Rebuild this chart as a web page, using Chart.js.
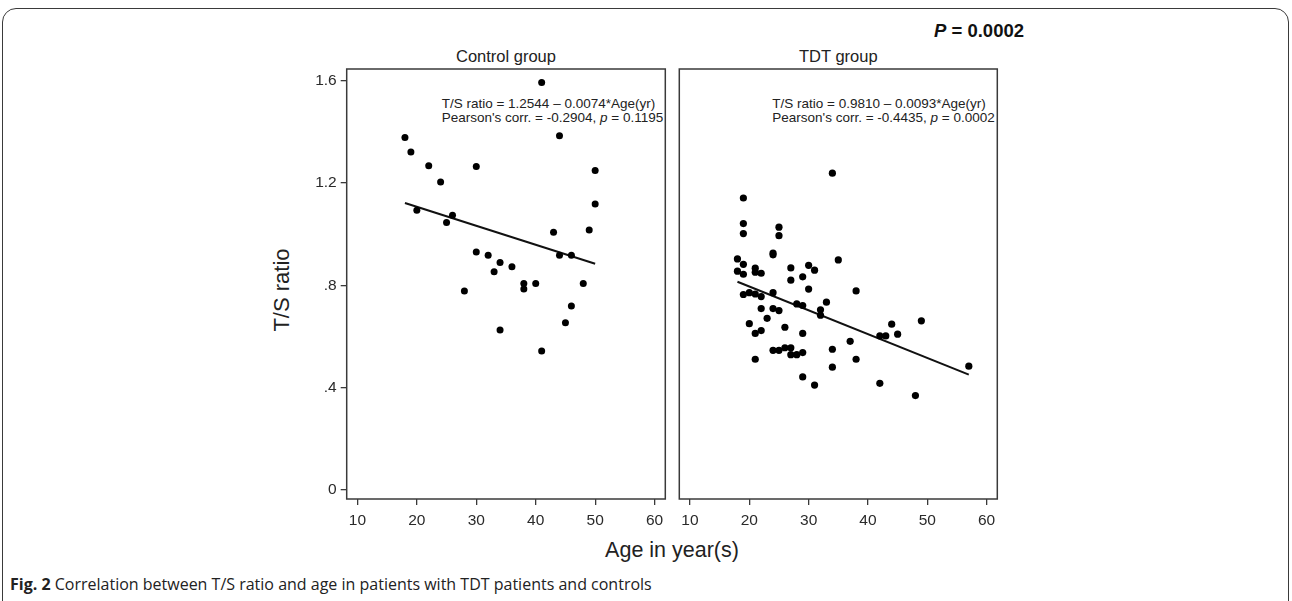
<!DOCTYPE html>
<html>
<head>
<meta charset="utf-8">
<script src="https://cdn.jsdelivr.net/npm/chart.js@4.4.1/dist/chart.umd.min.js"></script>
<style>
  html, body { margin:0; padding:0; background:#fff; }
  body { width:1292px; height:601px; position:relative; overflow:hidden; font-family:"Liberation Sans", Arial, sans-serif; color:#222; }
  .abs { position:absolute; white-space:nowrap; line-height:1; }
  canvas { position:absolute; }
</style>
</head>
<body>
<div class="abs" style="left:2px; top:8px; width:1287px; height:660px; border:1.6px solid #3a3a3a; border-radius:14px; box-sizing:border-box;"></div>

<div class="abs" id="pval" style="left:934px; top:22px; font-size:18.5px; font-weight:bold; color:#111;"><i>P</i> = 0.0002</div>
<div class="abs" style="left:406px; width:200px; text-align:center; top:47.7px; font-size:16.5px; color:#222;">Control group</div>
<div class="abs" style="left:738.3px; width:200px; text-align:center; top:47.7px; font-size:16.5px; color:#222;">TDT group</div>

<div class="abs" style="left:441.7px; top:96.9px; font-size:13.5px; color:#222;">T/S ratio = 1.2544 – 0.0074*Age(yr)</div>
<div class="abs" style="left:441.7px; top:111.3px; font-size:13.5px; color:#222;">Pearson's corr. = -0.2904, <i>p</i> = 0.1195</div>
<div class="abs" style="left:772.3px; top:96.9px; font-size:13.5px; color:#222;">T/S ratio = 0.9810 – 0.0093*Age(yr)</div>
<div class="abs" style="left:772.3px; top:111.3px; font-size:13.5px; color:#222;">Pearson's corr. = -0.4435, <i>p</i> = 0.0002</div>

<div class="abs" style="left:281.5px; top:290px; font-size:22px; color:#222; transform:translate(-50%,-50%) rotate(-90deg);">T/S ratio</div>
<div class="abs" style="left:572px; width:200px; text-align:center; top:540px; font-size:21.5px; color:#222;">Age in year(s)</div>

<div class="abs" style="left:10px; top:576px; font-size:16px; font-family:'Open Sans', sans-serif; color:#222;"><b>Fig. 2</b> Correlation between T/S ratio and age in patients with TDT patients and controls</div>

<canvas id="left" width="430" height="496" style="left:250px; top:49px; width:430px; height:496px;"></canvas>
<canvas id="right" width="340" height="496" style="left:670px; top:49px; width:340px; height:496px;"></canvas>

<script>
// ---------- data ----------
const panelTitles = ["Control group", "TDT group"];
const xTickValues = [10, 20, 30, 40, 50, 60];
const yTickValues = [0, 0.4, 0.8, 1.2, 1.6];
const yTickLabels = ["0", ".4", ".8", "1.2", "1.6"];

const controlAge = [18,19,22,24,30,41,44,50,50,20,26,25,43,49,30,32,44,46,34,33,36,38,38,40,48,28,46,45,34,41];
const controlTS  = [1.377,1.321,1.267,1.204,1.264,1.592,1.384,1.248,1.118,1.093,1.074,1.045,1.007,1.016,0.930,0.917,0.917,0.917,0.889,0.853,0.872,0.807,0.785,0.807,0.807,0.778,0.719,0.654,0.625,0.543];
const controlFit = { intercept: 1.2544, slope: -0.0074 };

const tdtAge = [34,19,19,19,25,25,24,24,18,35,19,18,19,21,21,22,27,27,30,29,31,30,38,19,20,21,22,24,28,29,33,32,32,22,24,25,23,20,26,22,21,29,44,49,42,43,45,37,24,25,26,27,27,28,29,34,21,38,34,29,31,42,48,57];
const tdtTS  = [1.238,1.141,1.041,1.002,1.027,0.994,0.926,0.919,0.903,0.899,0.882,0.855,0.843,0.867,0.851,0.847,0.868,0.820,0.878,0.833,0.859,0.785,0.778,0.764,0.771,0.766,0.756,0.771,0.727,0.721,0.734,0.704,0.683,0.709,0.709,0.701,0.671,0.650,0.636,0.623,0.612,0.612,0.648,0.661,0.602,0.602,0.609,0.581,0.546,0.546,0.556,0.556,0.529,0.529,0.537,0.550,0.511,0.511,0.480,0.442,0.410,0.417,0.369,0.484];
const tdtFit = { intercept: 0.9810, slope: -0.0093 };

// ---------- helpers ----------
const FONT = '"Liberation Sans", Arial, sans-serif';
const AXIS_COLOR = '#3a3a3a';

const framePlugin = {
  id: 'frame',
  afterDraw(chart) {
    const { ctx, chartArea: a } = chart;
    ctx.save();
    ctx.strokeStyle = AXIS_COLOR;
    ctx.lineWidth = 1.5;
    ctx.strokeRect(a.left, a.top, a.right - a.left, a.bottom - a.top);
    ctx.restore();
  }
};

function fitLine(ages, fit) {
  const lo = Math.min(...ages), hi = Math.max(...ages);
  return [lo, hi].map(x => ({ x, y: fit.intercept + fit.slope * x }));
}

function makePanel(id, ages, ts, fit, opts) {
  const points = ages.map((a, i) => ({ x: a, y: ts[i] }));
  return new Chart(document.getElementById(id), {
    type: 'scatter',
    data: {
      datasets: [
        { data: points, backgroundColor: '#000', borderColor: '#000', pointRadius: opts.r, pointBorderWidth: 0, pointHoverRadius: opts.r },
        { type: 'line', data: fitLine(ages, fit), borderColor: '#111', borderWidth: 2, pointRadius: 0, showLine: true, fill: false }
      ]
    },
    options: {
      responsive: false,
      animation: false,
      devicePixelRatio: 1,
      layout: { padding: { left: 0, top: 20, right: opts.padRight, bottom: 0 } },
      plugins: { legend: { display: false }, tooltip: { enabled: false } },
      scales: {
        x: {
          type: 'linear', min: 8.2, max: 61.8,
          afterBuildTicks: s => { s.ticks = xTickValues.map(v => ({ value: v })); },
          afterFit: s => { s.height = 46; },
          grid: { display: true, drawOnChartArea: false, drawTicks: true, tickLength: 6, color: AXIS_COLOR, lineWidth: 1.3 },
          border: { display: false },
          ticks: { color: '#2a2a2a', padding: 6, maxRotation: 0, autoSkip: false, font: { family: FONT, size: 15.5 }, callback: v => String(v) }
        },
        y: {
          type: 'linear', min: -0.035, max: 1.645,
          afterBuildTicks: s => { s.ticks = yTickValues.map(v => ({ value: v })); },
          afterFit: s => { s.width = opts.yWidth; },
          grid: { display: opts.yLabels, drawOnChartArea: false, drawTicks: true, tickLength: 6, color: AXIS_COLOR, lineWidth: 1.3 },
          border: { display: false },
          ticks: { display: opts.yLabels, color: '#2a2a2a', padding: 4, font: { family: FONT, size: 15.5 },
                   callback: v => { const i = yTickValues.findIndex(t => Math.abs(t - v) < 1e-9); return i >= 0 ? yTickLabels[i] : ''; } }
        }
      }
    },
    plugins: [framePlugin]
  });
}

makePanel('left', controlAge, controlTS, controlFit, { r: 3.5, yWidth: 96.7, padRight: 14.7, yLabels: true });
makePanel('right', tdtAge, tdtTS, tdtFit, { r: 3.6, yWidth: 9.3, padRight: 12.7, yLabels: false });
</script>
</body>
</html>
